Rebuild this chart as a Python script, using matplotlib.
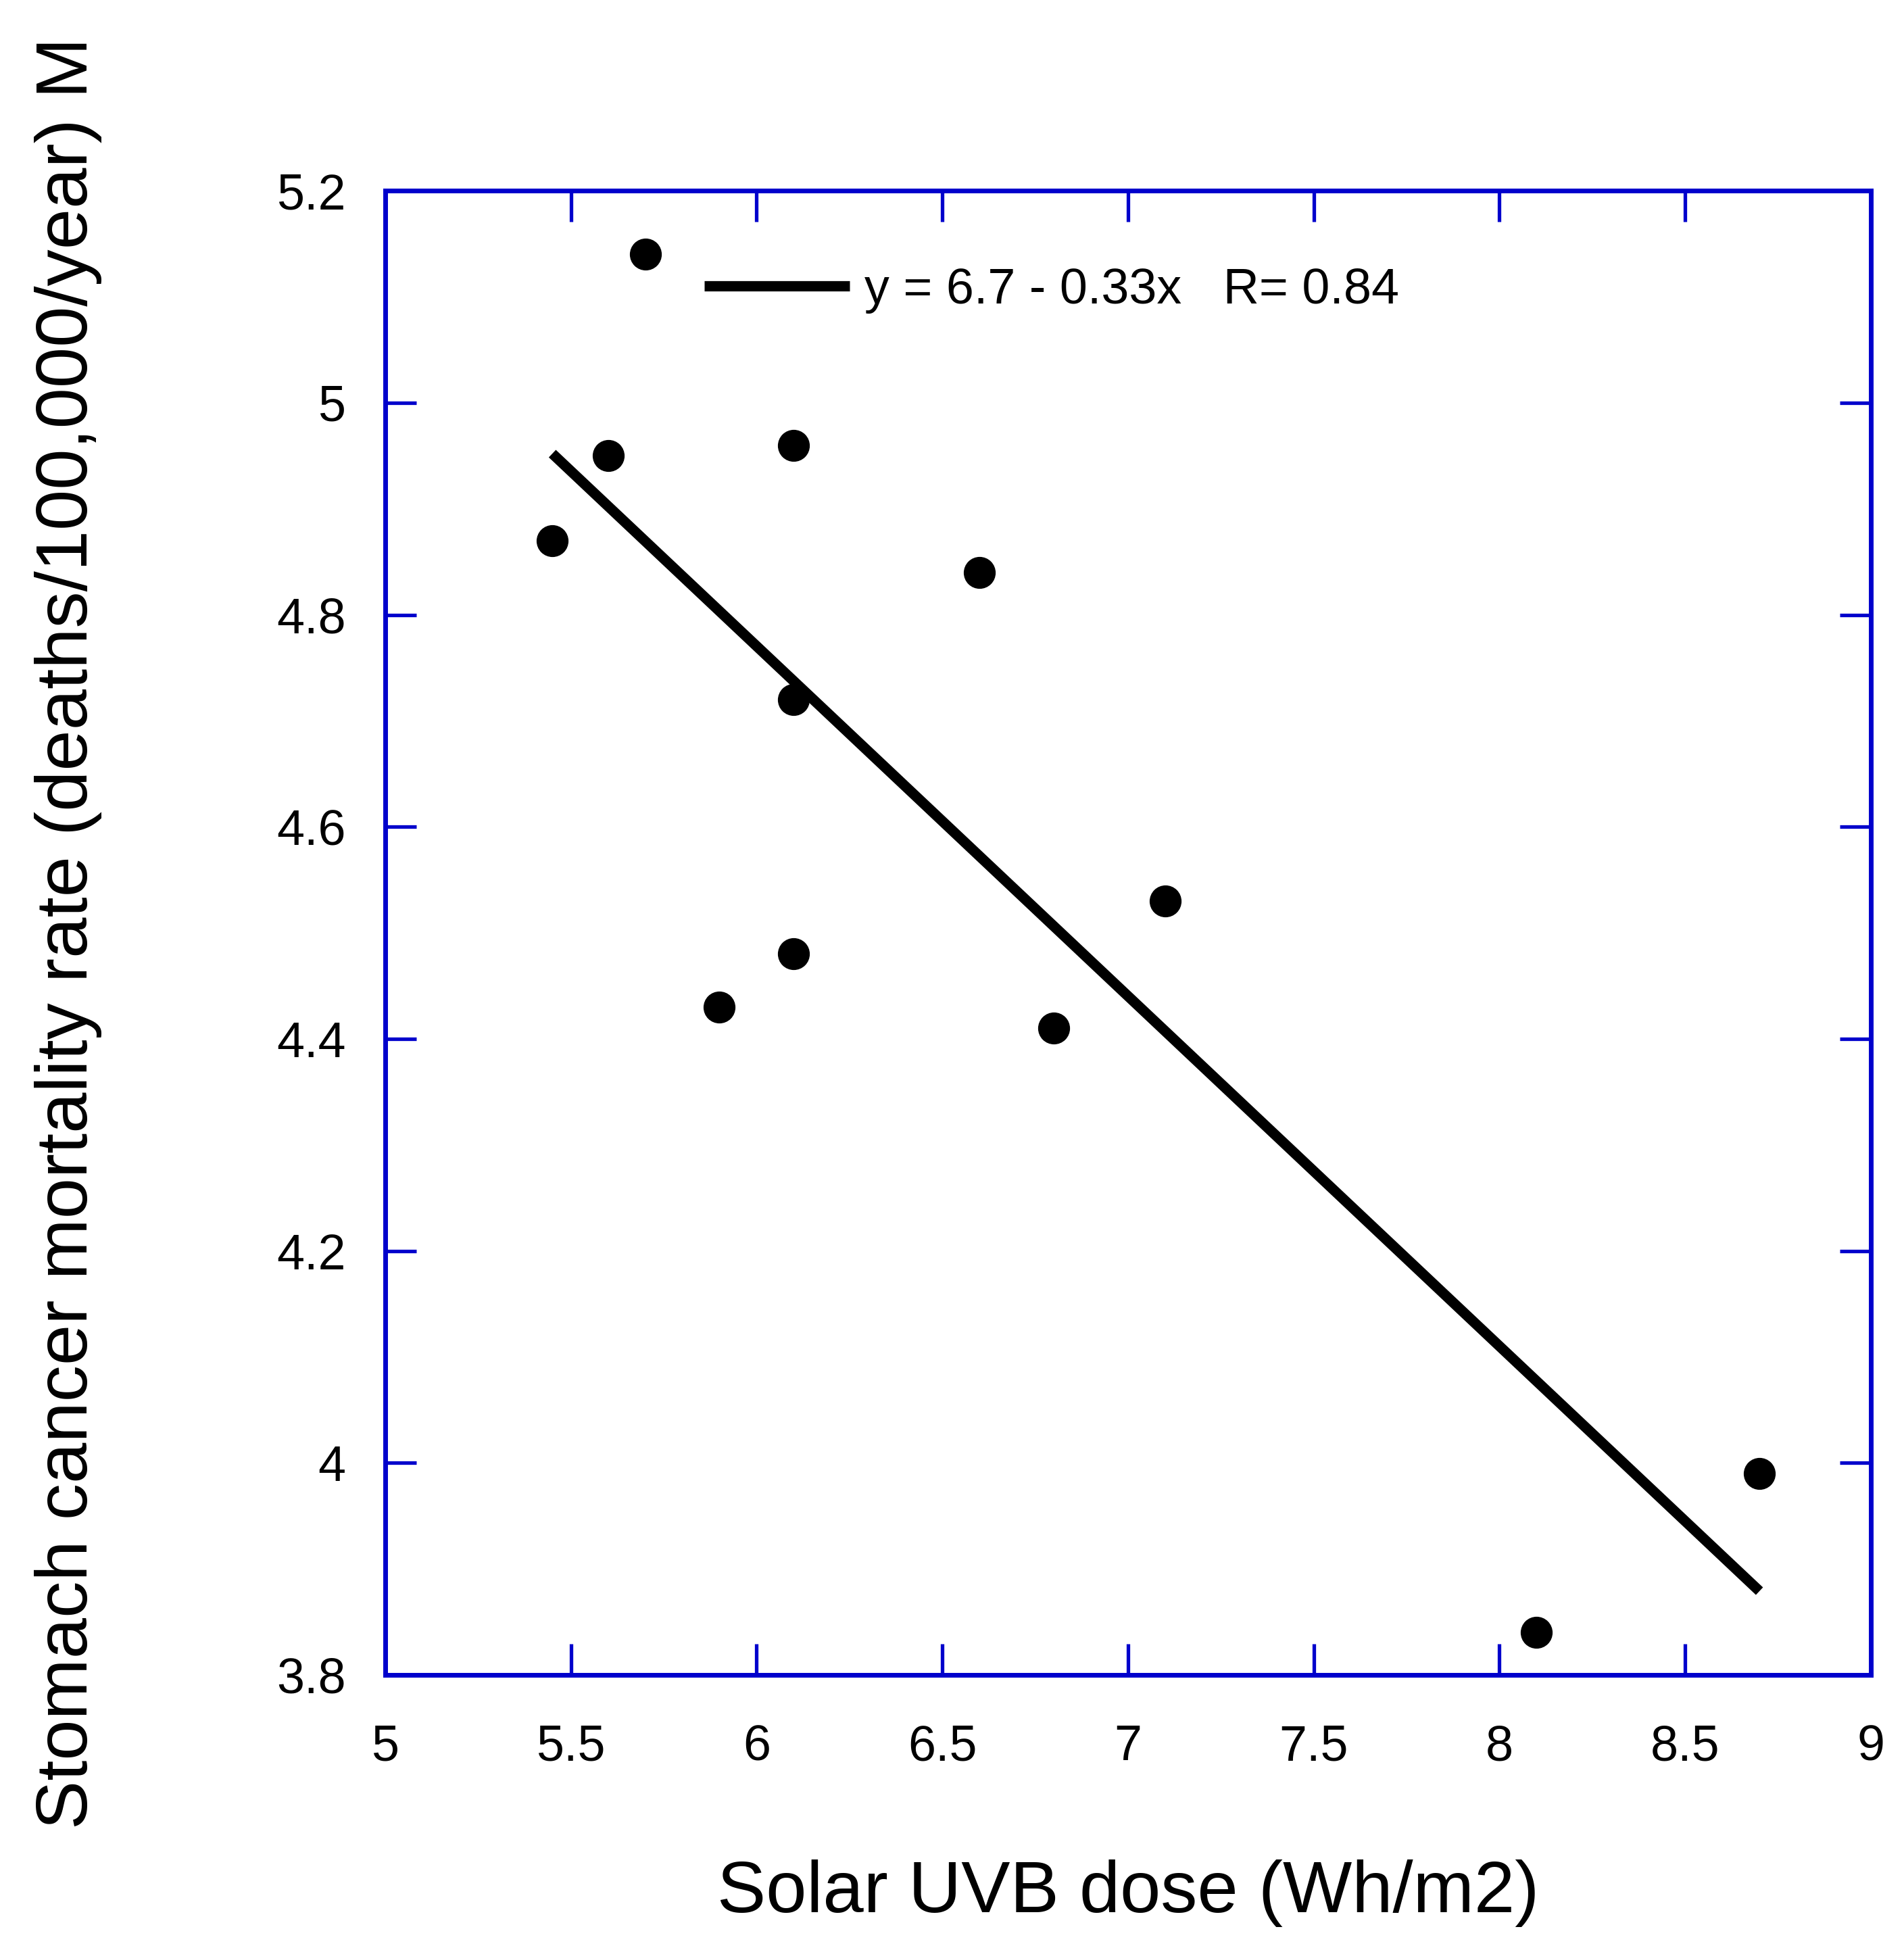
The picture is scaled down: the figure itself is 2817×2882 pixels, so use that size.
import matplotlib
matplotlib.use('Agg')
import matplotlib.pyplot as plt
import numpy as np

# Datos
uvb_dose = [5.45, 5.6, 5.7, 5.9, 6.1, 6.1, 6.1, 6.6, 6.8, 7.1, 8.1, 8.7]
mortality = [4.87, 4.95, 5.14, 4.43, 4.96, 4.72, 4.48, 4.84, 4.41, 4.53, 3.84, 3.99]

# Recta de regresion (extremos)
fit_x = [5.45, 8.7]
fit_y = [4.952, 3.879]
fit_label = "y = 6.7 - 0.33x   R= 0.84"

x_ticks = [5, 5.5, 6, 6.5, 7, 7.5, 8, 8.5, 9]
y_ticks = [3.8, 4.0, 4.2, 4.4, 4.6, 4.8, 5.0, 5.2]

plt.rcParams['font.family'] = ['Liberation Sans', 'DejaVu Sans']
blue = '#0000CC'

fig = plt.figure(figsize=(28.17, 28.82), dpi=100)
ax = fig.add_axes([0.2023, 0.1402, 0.7803, 0.7619])

ax.plot(fit_x, fit_y, color='black', linewidth=11, solid_capstyle='butt', label=fit_label)
ax.plot(uvb_dose, mortality, 'o', color='black', markersize=33, zorder=3)

ax.set_xlim(5, 9)
ax.set_ylim(3.8, 5.2)
ax.set_xticks(x_ticks)
ax.set_yticks(y_ticks)
ax.set_xticklabels([f"{v:g}" for v in x_ticks])
ax.set_yticklabels([f"{v:g}" for v in y_ticks])

for sp in ax.spines.values():
    sp.set_color(blue)
    sp.set_linewidth(5)

ax.tick_params(axis='both', which='major', direction='in', length=33, width=3.8,
               color=blue, labelsize=53, top=True, right=True)
ax.tick_params(axis='x', pad=52)
ax.tick_params(axis='y', pad=42)

ax.set_xlabel("Solar UVB dose (Wh/m2)", fontsize=78, labelpad=95)
ax.set_ylabel("Stomach cancer mortality rate (deaths/100,000/year) M", fontsize=78, labelpad=186)

ax.legend(loc='center left', bbox_to_anchor=(0.215, 0.933), frameon=False, fontsize=53,
          handlelength=2.92, handletextpad=0.3, borderpad=0, borderaxespad=0)

fig.savefig('out.png', dpi=100)
